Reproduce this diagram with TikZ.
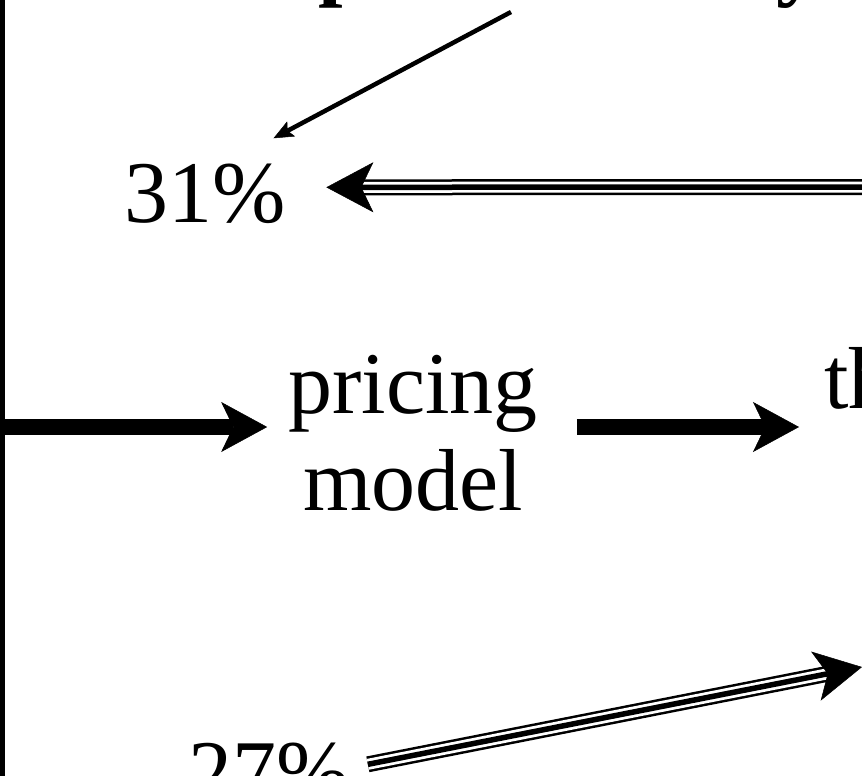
\documentclass[tikz,border=0pt]{standalone}
\usepackage{fontspec}
\setmainfont{Liberation Serif}
\usetikzlibrary{positioning, calc, arrows.meta}

\tikzset{
  lbl/.style={inner sep=0pt, font=\fontsize{88}{97}\selectfont},
  heavy/.style={line width=16pt, -{Stealth[length=46pt, width=50pt, inset=12pt, line width=0.5pt]}},
  slim/.style={line width=4.5pt, -{Stealth[length=20pt, width=17pt, inset=4pt, line width=0.5pt]}},
  rails/.style={double=white, double distance=11pt, line width=2.5pt},
  core/.style={line width=5.5pt, -{Stealth[length=47pt, width=50pt, inset=12pt, line width=0.5pt]}}
}

\begin{document}
\begin{tikzpicture}[x=1pt, y=-1pt]
  \useasboundingbox (0,0) rectangle (862,776);
  \clip (0,0) rectangle (862,776);

  % left bar
  \draw[line width=5pt] (2.5,-10) -- (2.5,786);

  % title, cut off at the top
  \node[lbl, font=\fontsize{88}{97}\selectfont\bfseries, anchor=base west] (ttlp) at (318,-10) {p};
  \node[lbl, font=\fontsize{88}{97}\selectfont\bfseries, anchor=base west] (ttly) at (776,-10) {y};

  % labels
  \node[lbl, anchor=base] (pct31) at (205.5,222) {31\%};
  \node[lbl, anchor=base] (pct27) at (269,801) {27\%};
  \node[lbl, align=center, anchor=base] (pm) at (413,510) {pricing\\model};
  \node[lbl, anchor=base west] (th) at (824,408) {th};

  \coordinate (top) at (511,12);
  \coordinate (rgt) at (900,187);
  \coordinate (lft) at (2.5,427);
  \coordinate (ne) at (862,667);
  \coordinate (p31tip) at ([xshift=40pt,yshift=6pt]pct31.east);
  \coordinate (p27tail) at ([xshift=18pt,yshift=8pt]pct27.east);

  % arrows
  \draw[slim] (top) -- ([xshift=68pt,yshift=25pt]pct31.north);
  \foreach \s/\e in {rgt/p31tip, p27tail/ne} {
    \draw[rails, shorten >=30pt] (\s) -- (\e);
    \draw[core] (\s) -- (\e);
  }
  \draw[heavy, shorten >=21pt] (lft) -- (lft -| pm.west);
  \draw[heavy, shorten <=39pt, shorten >=25pt] (pm.east |- lft) -- (th.west |- lft);
\end{tikzpicture}
\end{document}
